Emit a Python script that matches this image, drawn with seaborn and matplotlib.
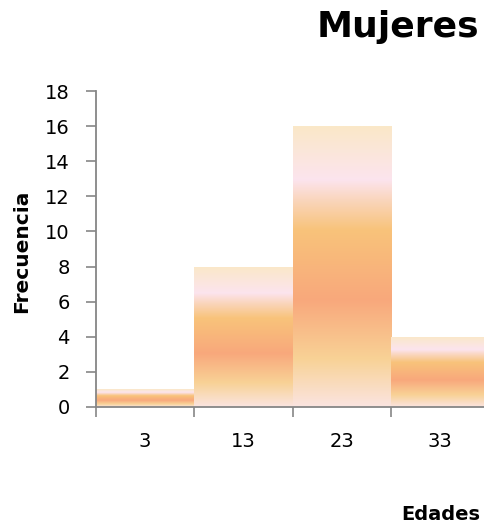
import numpy as np
import pandas as pd
import matplotlib
matplotlib.use("Agg")
import matplotlib.pyplot as plt
from matplotlib.colors import LinearSegmentedColormap
import seaborn as sns

# Age classes (class marks) and how many women fall in each
edades = ["3", "13", "23", "33"]
frecuencia = [1, 8, 16, 4]
yticks = list(range(0, 19, 2))

df = pd.DataFrame({"Edades": edades, "Frecuencia": frecuencia})

sns.set_theme(style="white")
plt.rcParams["font.family"] = ["DejaVu Sans"]
plt.rcParams["text.color"] = "black"

fig = plt.figure(figsize=(4.84, 5.27), dpi=100)
ax = fig.add_axes([96 / 484, 1 - 407 / 527, 393 / 484, 316 / 527])

sns.barplot(data=df, x="Edades", y="Frecuencia", ax=ax, width=1.0,
            color="#F9A87C", linewidth=0, saturation=1)

# Warm banded gradient painted inside each bar, stretched to the bar's height
grad = LinearSegmentedColormap.from_list("calido", [
    (0.00, "#FBE4E0"),
    (0.17, "#F8D296"),
    (0.38, "#F9A87C"),
    (0.63, "#F8C37A"),
    (0.74, "#FAD6BE"),
    (0.81, "#FCE4EE"),
    (1.00, "#FAE8C8"),
])
g = np.linspace(0, 1, 256).reshape(-1, 1)
for p in ax.patches:
    x0, w, h = p.get_x(), p.get_width(), p.get_height()
    p.set_facecolor("none")
    im = ax.imshow(g, cmap=grad, origin="lower", aspect="auto",
                   extent=(x0, x0 + w, 0, h), zorder=p.get_zorder(),
                   interpolation="bilinear")
    im.set_clip_path(p)

n = len(edades)
ax.set_xlim(-0.5, n - 0.5)
ax.set_ylim(0, 18)
ax.set_yticks(yticks)
ax.set_xticks(range(n))
ax.set_xticklabels(edades)
ax.set_xticks([i - 0.5 for i in range(n)], minor=True)

axis_col = "#868686"
for side in ["top", "right"]:
    ax.spines[side].set_visible(False)
for side in ["left", "bottom"]:
    ax.spines[side].set_color(axis_col)
    ax.spines[side].set_linewidth(1.3)

ax.tick_params(axis="y", which="major", direction="out", length=7, width=1.2,
               color=axis_col, labelsize=14, labelcolor="black", pad=12, left=True)
ax.tick_params(axis="x", which="major", length=0, labelsize=14,
               labelcolor="black", pad=18)
ax.tick_params(axis="x", which="minor", direction="out", length=7, width=1.2,
               color=axis_col, bottom=True)

ax.set_xlabel("")
ax.set_ylabel("")
fig.text(22 / 484, 1 - 251 / 527, "Frecuencia", rotation=90, fontsize=14.5,
         fontweight="bold", ha="center", va="center")
fig.text(441 / 484, 1 - 520 / 527, "Edades", fontsize=14,
         fontweight="bold", ha="center", va="baseline")
fig.text(479 / 484, 1 - 37 / 527, "Mujeres", fontsize=26,
         fontweight="bold", ha="right", va="baseline")

fig.savefig("out.png", dpi=100)
